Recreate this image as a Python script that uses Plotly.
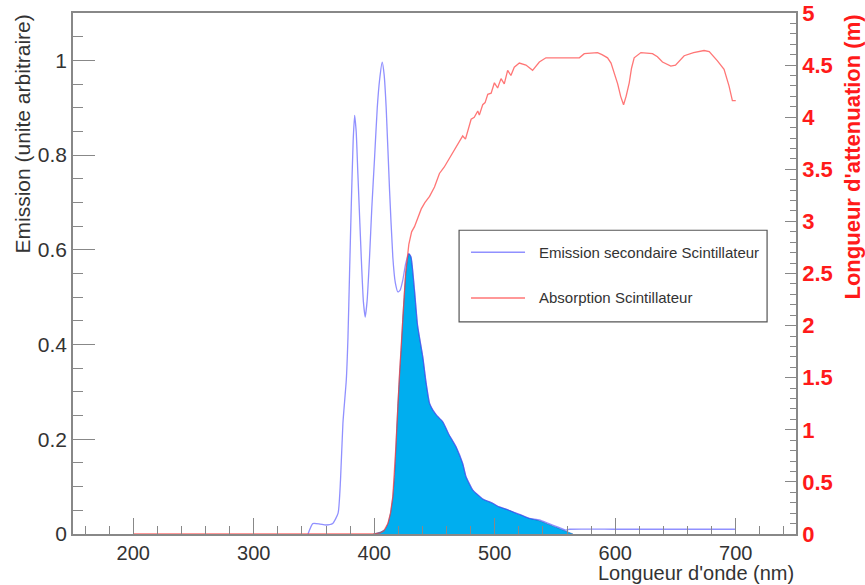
import plotly.graph_objects as go

# ---------------- data ----------------
emission_nm = [345, 349, 355, 360, 365.5, 370, 372, 374, 376.8, 378.2, 379.5, 380.9, 382.5, 383.7,
               385, 386.4, 389.2, 391, 392.5, 394, 396.1, 398, 400.3, 402.5, 404.4, 406.6, 408.2,
               409.9, 412.7, 415.4, 417.5, 419.6, 421.5, 423.7, 426, 428.7, 430.5, 433.4, 436,
               440.3, 443, 445.9, 448.6, 452, 456.9, 462, 467.9, 473.4, 476.2, 481.7, 484.5, 490,
               498.3, 503, 510, 517.6, 522, 528.7, 537, 545, 552, 559, 562, 600, 650, 700]
emission_val = [0, 0.022, 0.021, 0.019, 0.022, 0.044, 0.114, 0.234, 0.325, 0.416, 0.55, 0.69, 0.83, 0.884,
                0.85, 0.761, 0.585, 0.49, 0.458, 0.49, 0.585, 0.69, 0.796, 0.9, 0.958, 0.996, 0.97,
                0.90, 0.726, 0.585, 0.53, 0.511, 0.515, 0.536, 0.57, 0.592, 0.585, 0.515, 0.44,
                0.374, 0.32, 0.276, 0.262, 0.25, 0.237, 0.21, 0.184, 0.149, 0.121, 0.093, 0.086, 0.074,
                0.065, 0.058, 0.052, 0.044, 0.04, 0.033, 0.03, 0.022, 0.015, 0.008, 0.01, 0.01, 0.01, 0.01]

filtered_nm = [399, 405, 409, 411.3, 413.5, 415.4, 417, 418.2, 419.5, 421, 422.5, 423.7, 425, 426.5,
               428.7, 430.5, 433.4, 436, 440.3, 443, 445.9, 448.6, 452, 456.9, 462, 467.9, 473.4,
               476.2, 481.7, 484.5, 490, 498.3, 503, 510, 517.6, 522, 528.7, 537, 545, 552, 559, 565]
filtered_val = [0, 0.004, 0.01, 0.022, 0.045, 0.079, 0.13, 0.198, 0.27, 0.339, 0.40, 0.458, 0.51, 0.56,
                0.592, 0.585, 0.515, 0.44, 0.374, 0.32, 0.276, 0.262, 0.25, 0.237, 0.21, 0.184, 0.149,
                0.121, 0.093, 0.086, 0.074, 0.065, 0.058, 0.052, 0.044, 0.04, 0.033, 0.028, 0.02, 0.013, 0.006, 0]

absorption_nm = [200, 400, 405, 408, 411.3, 413.5, 415.4, 418, 421, 423.7, 426, 428.7, 431, 433.4, 439,
                 442, 445.9, 450, 454.1, 458, 462, 466.6, 470, 473.4, 475.7, 478, 480.4, 483, 485.9,
                 487.2, 490, 492, 494.2, 497, 499.7, 502.4, 505.2, 507.9, 510.7, 513.4, 516.2, 520.4,
                 525.9, 531.4, 537, 542.5, 550, 560, 570.2, 574.3, 581.2, 585.3, 589, 593.6, 596.5,
                 599.2, 602, 604.5, 606.9, 609, 611.6, 613.5, 615.7, 621.3, 630.9, 635, 639.2, 646.1,
                 650, 657.2, 665, 673.7, 678, 684.8, 690.3, 694.4, 697.2, 700]
absorption_val = [0, 0, 0.01, 0.03, 0.10, 0.2, 0.36, 0.85, 1.54, 2.08, 2.5, 2.78, 2.9, 2.95, 3.12,
                  3.18, 3.24, 3.33, 3.46, 3.52, 3.6, 3.69, 3.76, 3.82, 3.79, 3.88, 3.98, 4.0, 4.06,
                  4.02, 4.12, 4.14, 4.22, 4.23, 4.33, 4.28, 4.37, 4.32, 4.45, 4.40, 4.48, 4.52,
                  4.50, 4.45, 4.53, 4.57, 4.57, 4.57, 4.57, 4.61, 4.62, 4.62, 4.60, 4.57, 4.52,
                  4.43, 4.32, 4.2, 4.12, 4.2, 4.33, 4.47, 4.57, 4.62, 4.61, 4.58, 4.53, 4.49,
                  4.50, 4.59, 4.62, 4.64, 4.63, 4.54, 4.46, 4.30, 4.16, 4.16]

legend_labels = ["Emission secondaire Scintillateur", "Absorption Scintillateur"]

# ---------------- styles ----------------
FONT = "Liberation Sans, Arial, Helvetica, sans-serif"
AXIS_GRAY = "#888888"
TEXT = "#333333"
BLUE = "rgba(70,70,255,0.6)"
RED = "rgba(255,60,60,0.7)"
FILL = "rgb(0,174,239)"

fig = go.Figure()

fig.add_trace(go.Scatter(x=filtered_nm, y=filtered_val, mode="lines", fill="tozeroy",
                         fillcolor=FILL,
                         line=dict(color="rgba(40,80,170,0.7)", width=0.8, shape="spline", smoothing=0.5),
                         showlegend=False, hoverinfo="skip"))
fig.add_trace(go.Scatter(x=emission_nm, y=emission_val, mode="lines",
                         line=dict(color=BLUE, width=1.3, shape="spline", smoothing=0.5),
                         name=legend_labels[0], showlegend=False))
fig.add_trace(go.Scatter(x=absorption_nm, y=absorption_val, mode="lines", yaxis="y2",
                         line=dict(color=RED, width=1.3), name=legend_labels[1], showlegend=False))

fig.update_layout(
    width=865, height=585,
    margin=dict(l=73, r=69, t=13, b=51),
    paper_bgcolor="white", plot_bgcolor="white",
    font=dict(family=FONT, color=TEXT),
    xaxis=dict(range=[150, 750], tick0=0, dtick=100, ticks="inside", ticklen=16,
               tickcolor=AXIS_GRAY, tickwidth=1.2, showline=True, linecolor=AXIS_GRAY,
               linewidth=1.5, mirror=True, showgrid=False, zeroline=False, automargin=False,
               tickfont=dict(size=20, color=TEXT, family=FONT),
               minor=dict(dtick=20, tick0=0, ticks="inside", ticklen=8, tickcolor=AXIS_GRAY,
                          showgrid=False)),
    yaxis=dict(range=[0, 1.1], tick0=0, dtick=0.2, ticks="inside", ticklen=22,
               tickcolor=AXIS_GRAY, tickwidth=1.2, showline=True, linecolor=AXIS_GRAY,
               linewidth=1.5, showgrid=False, zeroline=False, automargin=False,
               tickfont=dict(size=21, color=TEXT, family=FONT),
               minor=dict(dtick=0.05, tick0=0, ticks="inside", ticklen=10, tickcolor=AXIS_GRAY,
                          showgrid=False)),
    yaxis2=dict(range=[0, 5], overlaying="y", side="right", tick0=0, dtick=0.5,
                ticks="inside", ticklen=11, tickcolor=AXIS_GRAY, tickwidth=1.2,
                showline=True, linecolor=AXIS_GRAY, linewidth=1.5, showgrid=False,
                zeroline=False, automargin=False,
                tickfont=dict(size=22, color="#ff1a1a", family=FONT, weight="bold"),
                minor=dict(dtick=0.1, tick0=0, ticks="inside", ticklen=6, tickcolor=AXIS_GRAY,
                           showgrid=False)),
)

# axis titles (ROOT style: aligned to the end of the axis)
fig.add_annotation(text="Longueur d'onde (nm)", xref="paper", yref="paper", x=1.0, y=-0.0745,
                   xanchor="right", yanchor="middle", showarrow=False,
                   font=dict(size=20, color=TEXT, family=FONT))
fig.add_annotation(text="Emission (unite arbitraire)", xref="paper", yref="paper", x=-0.0705, y=1.0,
                   xanchor="center", yanchor="top", textangle=-90, showarrow=False,
                   font=dict(size=21, color=TEXT, family=FONT))
fig.add_annotation(text="Longueur d'attenuation (m)", xref="paper", yref="paper", x=1.0775, y=1.0,
                   xanchor="center", yanchor="top", textangle=-90, showarrow=False,
                   font=dict(size=22, color="#ff1a1a", family=FONT, weight="bold"))

# legend box
fig.add_shape(type="rect", xref="paper", yref="paper", x0=0.534, x1=0.960, y0=0.407, y1=0.583,
              line=dict(color="#555555", width=1.2), fillcolor="white", layer="above")
legend_colors = [BLUE, RED]
legend_y = [0.541, 0.453]
for lab, col, ly in zip(legend_labels, legend_colors, legend_y):
    fig.add_shape(type="line", xref="paper", yref="paper", x0=0.5505, x1=0.6252, y0=ly, y1=ly,
                  line=dict(color=col, width=1.5), layer="above")
    fig.add_annotation(text=lab, xref="paper", yref="paper", x=0.6418, y=ly, xanchor="left",
                       yanchor="middle", showarrow=False,
                       font=dict(size=15, color=TEXT, family=FONT))

fig.write_html("out.html", config={"displayModeBar": False},
               post_script="document.body.style.margin='0';")
